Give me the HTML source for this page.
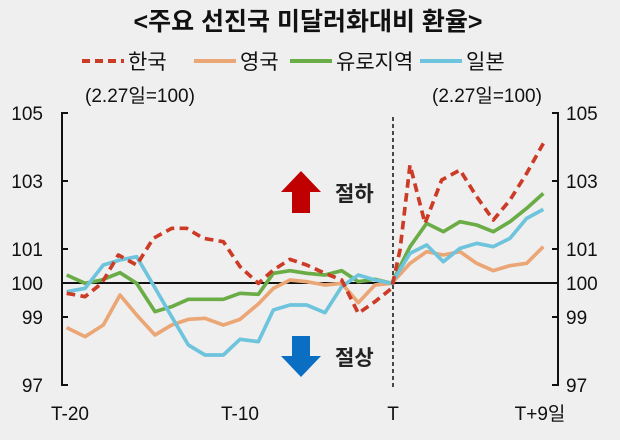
<!DOCTYPE html>
<html><head><meta charset="utf-8"><style>
body{margin:0;background:#efefef;}
svg{display:block;font-family:"Liberation Sans","Noto Sans CJK KR",sans-serif;}
</style></head><body>
<svg width="620" height="440" viewBox="0 0 620 440">
<rect width="620" height="440" fill="#efefef"/>
<text x="308" y="30" text-anchor="middle" font-size="25" font-weight="bold" fill="#111">&lt;주요 선진국 미달러화대비 환율&gt;</text>
<g font-size="21" fill="#111">
<line x1="82" y1="61" x2="124" y2="61" stroke="#cc3b26" stroke-width="4" stroke-dasharray="8,5"/><text x="128" y="69">한국</text>
<line x1="194" y1="61" x2="236" y2="61" stroke="#eba676" stroke-width="4"/><text x="240" y="69">영국</text>
<line x1="290" y1="61" x2="332" y2="61" stroke="#6aac46" stroke-width="4"/><text x="336" y="69">유로지역</text>
<line x1="420" y1="61" x2="462" y2="61" stroke="#6ec4dc" stroke-width="4"/><text x="466" y="69">일본</text>
</g>
<g font-size="19" fill="#111">
<text x="140" y="102" text-anchor="middle">(2.27일=100)</text>
<text x="487" y="102" text-anchor="middle">(2.27일=100)</text>
<g text-anchor="end"><text x="43" y="120">105</text><text x="43" y="188">103</text><text x="43" y="256">101</text><text x="43" y="290">100</text><text x="43" y="324">99</text><text x="43" y="392">97</text></g>
<text x="566" y="120">105</text><text x="566" y="188">103</text><text x="566" y="256">101</text><text x="566" y="290">100</text><text x="566" y="324">99</text><text x="566" y="392">97</text>
<text x="70" y="420" text-anchor="middle">T-20</text>
<text x="240" y="420" text-anchor="middle">T-10</text>
<text x="393" y="420" text-anchor="middle">T</text>
<text x="540" y="420" text-anchor="middle">T+9일</text>
</g>
<g stroke="#111" stroke-width="2" fill="none">
<path d="M68,113H62V385H68M62,181H68M62,249H68M62,317H68"/>
<path d="M552,113H558V385H552M558,181H552M558,249H552M558,317H552"/>
<line x1="62" y1="283" x2="558" y2="283"/>
</g>
<line x1="393" y1="117" x2="393" y2="390" stroke="#111" stroke-width="1.5" stroke-dasharray="4,3"/>
<path d="M281,192 L301,171 L321,192 L310,192 L310,213 L292,213 L292,192 Z" fill="#c00000"/>
<text x="335" y="201" font-size="21" font-weight="bold" fill="#222">절하</text>
<path d="M292,336 L310,336 L310,356 L321,356 L301,377 L281,356 L292,356 Z" fill="#0a6fc2"/>
<text x="335" y="365" font-size="21" font-weight="bold" fill="#222">절상</text>
<g transform="translate(60,100) scale(0.33333)" fill="none" stroke-linejoin="round">
<polyline stroke="#eba676" stroke-width="11" points="20,683 75,710 130,675 180,585 230,645 285,705 335,675 385,658 435,655 490,675 540,658 595,612 640,565 690,540 740,545 795,555 845,550 895,608 945,555 995,550 1050,490 1100,455 1150,465 1200,455 1250,490 1300,512 1350,497 1400,490 1450,440"/>
<polyline stroke="#6aac46" stroke-width="11" points="20,525 75,550 125,540 180,518 230,550 285,635 335,620 385,598 435,598 490,598 540,580 595,583 640,520 690,512 740,520 795,525 845,512 895,545 945,538 995,550 1050,440 1100,370 1150,395 1200,365 1250,375 1300,395 1350,365 1400,325 1450,280"/>
<polyline stroke="#6ec4dc" stroke-width="11" points="20,575 75,565 130,495 180,480 230,470 280,555 335,650 385,735 435,765 490,765 540,718 595,725 640,630 690,615 740,615 795,638 845,560 895,525 945,540 995,550 1050,460 1100,435 1150,485 1200,445 1250,430 1300,440 1350,415 1400,355 1450,328"/>
<polyline stroke="#cc3b26" stroke-width="11" stroke-dasharray="26,16" points="20,580 75,590 125,550 175,465 230,495 280,415 335,385 380,385 430,415 490,425 540,500 595,550 640,510 690,478 740,495 795,520 845,540 895,640 945,605 995,565 1020,450 1050,195 1095,370 1145,240 1200,210 1250,290 1300,360 1350,300 1400,220 1450,130"/>
</g>
</svg>
</body></html>
